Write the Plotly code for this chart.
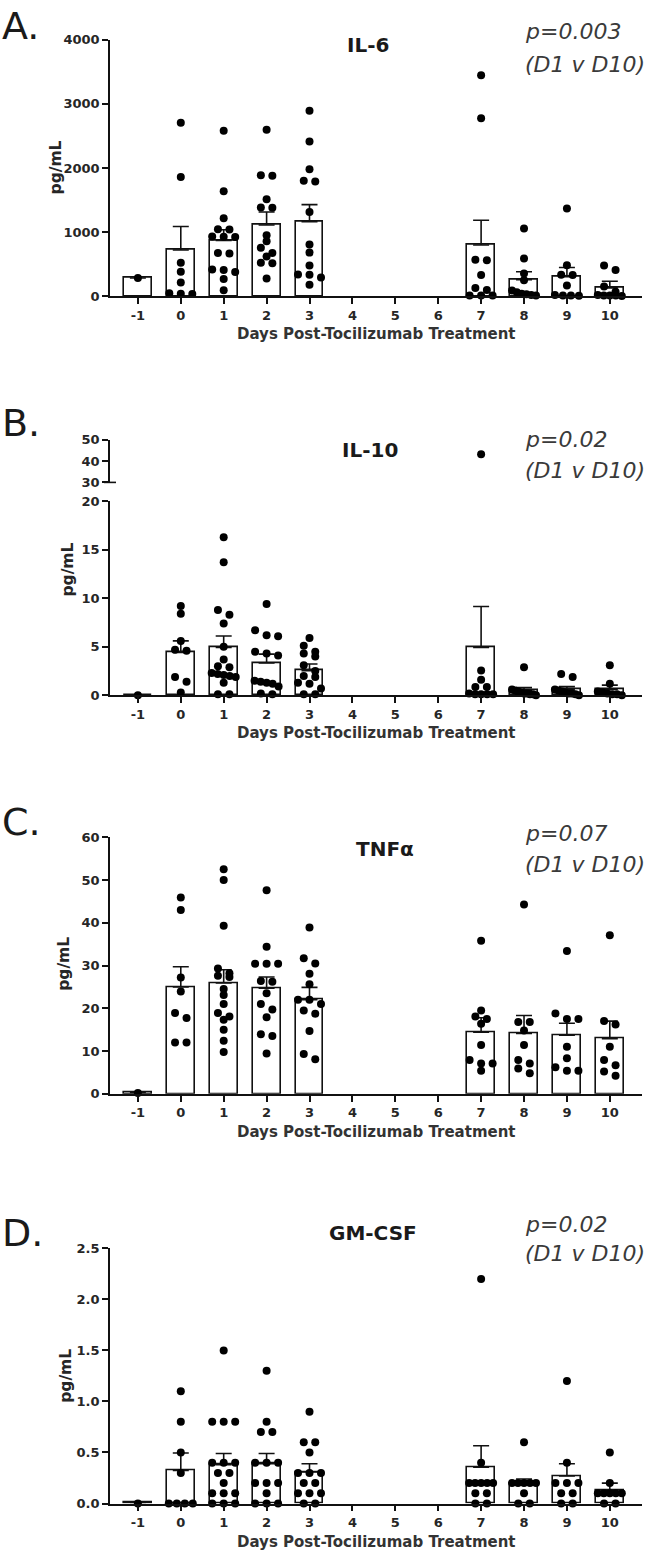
import plotly.graph_objects as go

W, H = 653, 1565
FONT = "DejaVu Sans"
AX = "#111111"
TXT = "#262626"

days = [-1, 0, 1, 2, 3, 7, 8, 9, 10]
x_ticks = list(range(-1, 11))
x_title = "Days Post-Tocilizumab Treatment"

# ---------------- IL-6 (pg/mL) ----------------
il6_points = [
    [283],
    [2703, 1858, 520, 380, 215, 45, 40, 35],
    [2579, 1635, 1215, 1045, 1040, 930, 927, 925, 675, 665, 415, 410, 376, 268, 93],
    [2595, 1885, 1880, 1510, 1385, 1380, 950, 855, 757, 675, 618, 520, 515, 275],
    [2893, 2414, 1980, 1800, 1790, 1313, 808, 680, 479, 340, 335, 293, 180],
    [3444, 2775, 570, 560, 330, 129, 98, 10, 10, 10],
    [1055, 587, 355, 250, 90, 60, 40, 30, 20, 10],
    [1369, 484, 335, 330, 165, 20, 10, 10, 8],
    [480, 410, 150, 70, 20, 10, 10, 10, 5],
]
il6_mean = [283, 721, 870, 1110, 1160, 798, 257, 304, 129]
il6_sem = [None, 365, 165, 203, 268, 386, 124, 144, 103]

# ---------------- IL-10 (pg/mL) ----------------
il10_points = [
    [0.0],
    [9.2, 8.4, 5.6, 4.7, 4.6, 1.9, 1.4, 0.3],
    [16.3, 13.7, 8.8, 8.3, 7.4, 5.0, 3.7, 3.0, 2.9, 2.3, 2.2, 2.1, 2.0, 1.9, 1.3, 0.1, 0.1],
    [9.4, 6.7, 6.2, 6.1, 4.5, 4.3, 4.1, 1.5, 1.4, 1.3, 1.2, 0.9, 0.2, 0.1],
    [5.9, 5.1, 4.5, 4.3, 4.0, 3.1, 2.5, 2.0, 1.9, 1.3, 1.2, 0.7, 0.1, 0.1],
    [43.1, 2.55, 1.6, 0.85, 0.85, 0.2, 0.1, 0.1, 0.1, 0.1],
    [2.9, 0.6, 0.5, 0.4, 0.3, 0.2, 0.2, 0.1, 0.1, 0.0],
    [2.2, 1.9, 0.6, 0.5, 0.4, 0.3, 0.2, 0.2, 0.1, 0.0],
    [3.1, 1.2, 0.4, 0.3, 0.2, 0.1, 0.1, 0.0],
]
il10_mean = [0, 4.42, 4.93, 3.33, 2.55, 4.93, 0.5, 0.6, 0.6]
il10_sem = [None, 1.19, 1.19, 0.92, 0.68, 4.22, 0.3, 0.3, 0.45]

# ---------------- TNFa (pg/mL) ----------------
tnf_points = [
    [0.2],
    [45.9, 43.0, 27.2, 23.9, 18.9, 17.7, 12.0, 12.0],
    [52.5, 50.0, 39.3, 29.3, 28.2, 27.6, 27.3, 24.5, 23.1, 21.0, 18.9, 18.1, 17.3, 15.0, 12.4, 9.8],
    [47.6, 34.4, 30.4, 30.4, 30.4, 26.4, 26.2, 23.5, 21.0, 19.7, 17.9, 13.9, 13.5, 9.4],
    [38.9, 31.7, 30.5, 28.1, 25.6, 22.0, 22.0, 21.0, 19.5, 18.7, 14.7, 9.3, 8.1],
    [35.8, 19.5, 18.1, 17.5, 16.4, 11.4, 7.9, 7.1, 7.1, 5.4],
    [44.3, 16.8, 16.8, 14.8, 11.4, 7.9, 7.1, 5.9, 4.8],
    [33.4, 18.8, 17.5, 17.5, 11.0, 8.3, 6.2, 5.4, 5.4],
    [37.1, 17.0, 16.2, 11.0, 7.9, 6.7, 5.2, 4.2],
]
tnf_mean = [0.3, 25.0, 25.9, 24.7, 22.0, 14.4, 14.1, 13.7, 12.9]
tnf_sem = [None, 4.7, 3.1, 2.6, 2.9, 3.4, 4.2, 2.8, 4.1]

# ---------------- GM-CSF (pg/mL) ----------------
gm_points = [
    [0.0],
    [1.1, 0.8, 0.5, 0.3, 0, 0, 0, 0],
    [1.5, 0.8, 0.8, 0.8, 0.4, 0.4, 0.4, 0.3, 0.3, 0.2, 0.1, 0.1, 0.1, 0, 0, 0],
    [1.3, 0.8, 0.7, 0.7, 0.4, 0.4, 0.4, 0.2, 0.2, 0.2, 0.1, 0, 0, 0],
    [0.9, 0.6, 0.6, 0.5, 0.3, 0.3, 0.3, 0.2, 0.2, 0.1, 0.1, 0.1, 0, 0],
    [2.2, 0.4, 0.2, 0.2, 0.2, 0.2, 0.2, 0.1, 0.1, 0, 0],
    [0.6, 0.2, 0.2, 0.2, 0.2, 0.2, 0.1, 0, 0],
    [1.2, 0.4, 0.2, 0.2, 0.2, 0.1, 0.1, 0, 0],
    [0.5, 0.2, 0.1, 0.1, 0.1, 0.1, 0.1, 0, 0],
]
gm_mean = [0.01, 0.323, 0.38, 0.39, 0.31, 0.356, 0.2, 0.27, 0.13]
gm_sem = [None, 0.172, 0.11, 0.10, 0.08, 0.21, 0.04, 0.12, 0.07]

panel_titles = ["IL-6", "IL-10", "TNFα", "GM-CSF"]
panel_letters = ["A.", "B.", "C.", "D."]
p_values = ["p=0.003", "p=0.02", "p=0.07", "p=0.02"]
p_sub = "(D1 v D10)"

# ---------------- layout geometry (pixels) ----------------
X_LEFT, X_RIGHT = 110, 642
X_RANGE = [-1.65, 10.75]
XPX = (X_RIGHT - X_LEFT) / (X_RANGE[1] - X_RANGE[0])


def py(p):
    return 1 - p / H


def pxx(p):
    return p / W


def swarm(vals, day, pxu, s_px=11.5, maxw_px=24, thr_px=6):
    v = sorted(vals, reverse=True)
    groups = []
    for val in v:
        if groups and (groups[-1][0] - val) * pxu <= thr_px:
            groups[-1].append(val)
        else:
            groups.append([val])
    xs, ys = [], []
    for g in groups:
        k = len(g)
        step = s_px if k <= 1 else min(s_px, maxw_px / (k - 1))
        for i, val in enumerate(g):
            xs.append(day + (i - (k - 1) / 2) * step / XPX)
            ys.append(val)
    return xs, ys


fig = go.Figure()

BAR_W = 0.65
LW = 1.6


def add_bars(mean, sem, xa, ya):
    fig.add_trace(go.Bar(
        x=days, y=mean, width=BAR_W, xaxis=xa, yaxis=ya,
        marker=dict(color="white", line=dict(color=AX, width=LW)),
        error_y=dict(type="data", symmetric=False, array=sem,
                     arrayminus=[0] * len(sem), color=AX, thickness=LW, width=8),
        showlegend=False, hoverinfo="skip"))


def add_dots(points, xa, ya, pxu, lo=None, hi=None):
    X, Y = [], []
    for d, vals in zip(days, points):
        sel = [v for v in vals if (lo is None or v >= lo) and (hi is None or v <= hi)]
        if not sel:
            continue
        xs, ys = swarm(sel, d, pxu)
        X += xs
        Y += ys
    fig.add_trace(go.Scatter(
        x=X, y=Y, mode="markers", xaxis=xa, yaxis=ya, cliponaxis=False,
        marker=dict(color="black", size=8, line=dict(width=0)),
        showlegend=False, hoverinfo="skip"))


panels = [
    dict(zero=292, top=33, rng=[0, 4000], tv=[0, 1000, 2000, 3000, 4000], fmt="d",
         pts=il6_points, mean=il6_mean, sem=il6_sem),
    dict(zero=695, top=499, rng=[0, 20], tv=[0, 5, 10, 15, 20], fmt="d",
         pts=il10_points, mean=il10_mean, sem=il10_sem),
    dict(zero=1097.3, top=838.3, rng=[0, 60], tv=[0, 10, 20, 30, 40, 50, 60], fmt="d",
         pts=tnf_points, mean=tnf_mean, sem=tnf_sem),
    dict(zero=1511, top=1253.3, rng=[0, 2.5], tv=[0, 0.5, 1.0, 1.5, 2.0, 2.5], fmt=".1f",
         pts=gm_points, mean=gm_mean, sem=gm_sem),
]

tickfont = dict(family=FONT, size=13, color=TXT, weight="bold")
axis_common = dict(showline=True, linecolor=AX, linewidth=LW, ticks="outside",
                   ticklen=6, tickwidth=LW, tickcolor=AX, showgrid=False,
                   zeroline=False, tickfont=tickfont)

layout_axes = {}
for i, p in enumerate(panels, start=1):
    xa = "x" if i == 1 else f"x{i}"
    ya = "y" if i == 1 else f"y{i}"
    xk = "xaxis" if i == 1 else f"xaxis{i}"
    yk = "yaxis" if i == 1 else f"yaxis{i}"
    layout_axes[xk] = dict(domain=[pxx(X_LEFT), pxx(X_RIGHT)], range=X_RANGE,
                           tickmode="array", tickvals=x_ticks,
                           ticktext=[str(t) for t in x_ticks], anchor=ya, **axis_common)
    layout_axes[yk] = dict(domain=[py(p["zero"]), py(p["top"])], range=p["rng"],
                           tickmode="array", tickvals=p["tv"], tickformat=p["fmt"],
                           anchor=xa, **axis_common)
    pxu = (p["zero"] - p["top"]) / (p["rng"][1] - p["rng"][0])
    add_bars(p["mean"], p["sem"], xa, ya)
    if i == 2:
        add_dots(p["pts"], xa, ya, pxu, hi=20)
    else:
        add_dots(p["pts"], xa, ya, pxu)

# IL-10 upper (broken) axis segment 30-50
B_UP_ZERO, B_UP_TOP = 480, 436.7
layout_axes["yaxis5"] = dict(domain=[py(B_UP_ZERO), py(B_UP_TOP)], range=[30, 50],
                             tickmode="array", tickvals=[30, 40, 50], tickformat="d",
                             anchor="x2", **axis_common)
add_dots(il10_points, "x2", "y5", (B_UP_ZERO - B_UP_TOP) / 20, lo=20.0001)

fig.update_layout(**layout_axes)

annotations = []
letter_y = [19, 420, 823, 1238]
title_pos = [(368, 38), (370, 447), (385, 850), (373, 1238)]
p_y = [(25, 58), (437, 468), (835, 866), (1229, 1259)]
ytitle_pos = [(56, 162), (68, 568), (64, 966), (66, 1382)]
xtitle_y = [330, 733, 1136, 1550]

for i in range(4):
    annotations.append(dict(text=panel_letters[i], x=0, y=py(letter_y[i]), xref="paper",
                            yref="paper", xanchor="left", yanchor="middle", showarrow=False,
                            font=dict(family=FONT, size=38, color="#1a1a1a")))
    annotations.append(dict(text=panel_titles[i], x=pxx(title_pos[i][0]), y=py(title_pos[i][1]),
                            xref="paper", yref="paper", xanchor="center", yanchor="middle",
                            showarrow=False,
                            font=dict(family=FONT, size=20, color="#1a1a1a", weight="bold")))
    annotations.append(dict(text="<i>" + p_values[i] + "</i>", x=pxx(523), y=py(p_y[i][0]),
                            xref="paper", yref="paper", xanchor="left", yanchor="middle",
                            showarrow=False, font=dict(family=FONT, size=22, color="#3a3a3a")))
    annotations.append(dict(text="<i>" + p_sub + "</i>", x=pxx(523), y=py(p_y[i][1]),
                            xref="paper", yref="paper", xanchor="left", yanchor="middle",
                            showarrow=False, font=dict(family=FONT, size=22, color="#3a3a3a")))
    annotations.append(dict(text="pg/mL", x=pxx(ytitle_pos[i][0]), y=py(ytitle_pos[i][1]),
                            xref="paper", yref="paper", xanchor="center", yanchor="middle",
                            textangle=-90, showarrow=False,
                            font=dict(family=FONT, size=15.5, color=TXT, weight="bold")))
    annotations.append(dict(text=x_title, x=pxx((X_LEFT + X_RIGHT) / 2), y=py(xtitle_y[i]),
                            xref="paper", yref="paper", xanchor="center", yanchor="middle",
                            showarrow=False,
                            font=dict(family=FONT, size=15, color="#333333", weight="bold")))

shapes = [dict(type="line", xref="paper", yref="paper",
               x0=pxx(X_LEFT - 6), x1=pxx(X_LEFT + 6), y0=py(B_UP_ZERO), y1=py(B_UP_ZERO),
               line=dict(color=AX, width=LW))]

fig.update_layout(width=W, height=H, margin=dict(l=0, r=0, t=0, b=0),
                  paper_bgcolor="white", plot_bgcolor="white",
                  annotations=annotations, shapes=shapes, bargap=0,
                  font=dict(family=FONT))

fig.write_html("out.html", config={"displayModeBar": False},
               post_script="document.body.style.margin='0px';")
